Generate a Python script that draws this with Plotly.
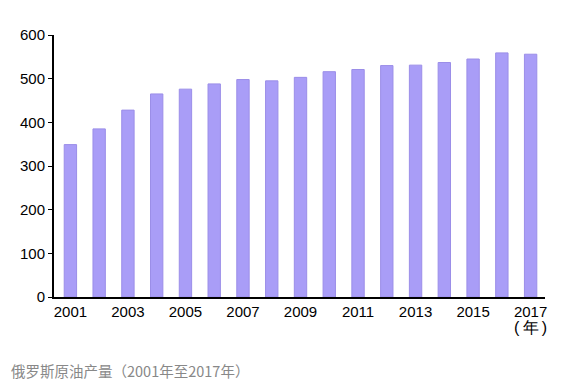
import plotly.graph_objects as go

years = list(range(2001, 2018))
production = [349, 385, 428, 465, 476, 488, 498, 495, 503, 516, 521, 530, 531, 537, 545, 559, 556]
x_ticks = [2001, 2003, 2005, 2007, 2009, 2011, 2013, 2015, 2017]
y_ticks = [0, 100, 200, 300, 400, 500, 600]
caption = "俄罗斯原油产量（2001年至2017年）"
unit_label = "(\u2009年\u2009)"

fig = go.Figure()
fig.add_trace(go.Bar(
    x=years, y=production, width=0.43,
    marker=dict(color="#a99df7", line=dict(color="#9b8ee8", width=1)),
))

# page has an 8px body margin, so the figure is offset by 8px
fig.update_layout(
    width=553, height=376,
    margin=dict(l=42, r=16, t=27, b=87),
    paper_bgcolor="white", plot_bgcolor="white",
    showlegend=False,
    font=dict(family="Liberation Sans, Arial, sans-serif", size=15, color="black"),
    xaxis=dict(
        range=[2000.43, 2017.5], tickvals=x_ticks, ticktext=[str(t) for t in x_ticks],
        showline=True, linecolor="black", linewidth=2, ticks="", showgrid=False,
        zeroline=False, tickfont=dict(size=15),
    ),
    yaxis=dict(
        range=[0, 600], tickvals=y_ticks, showline=True, linecolor="black", linewidth=2,
        ticks="outside", ticklen=4, tickcolor="black", showgrid=False, zeroline=False,
        tickfont=dict(size=15),
    ),
    annotations=[
        dict(text=unit_label, x=2017, y=0, xref="x", yref="paper", yshift=-30,
             showarrow=False, yanchor="middle", font=dict(size=16)),
        dict(text=caption, x=-42 / 495, y=-(370 - 297) / 262, xref="paper", yref="paper",
             xanchor="left", yanchor="middle", showarrow=False, xshift=-3,
             font=dict(size=14.5, color="#888888", family="Noto Sans CJK SC")),
    ],
)
fig.write_html("out.html")
